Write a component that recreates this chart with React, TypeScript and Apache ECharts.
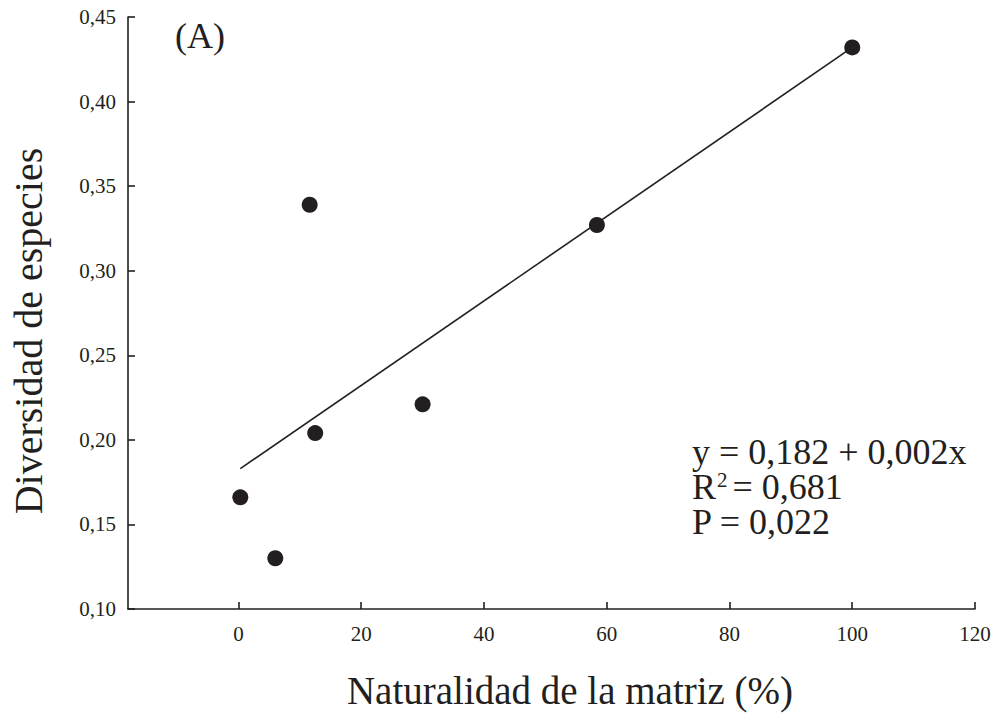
import React, { useEffect, useRef } from "react";
import * as echarts from "echarts";

const pointsX = [0.3, 6.0, 11.6, 12.5, 30.0, 58.4, 100];
const pointsY = [0.166, 0.130, 0.339, 0.204, 0.221, 0.327, 0.432];
const fitX = [0.3, 100];
const fitY = [0.183, 0.432];
const xTicks = [0, 20, 40, 60, 80, 100, 120];
const xTitle = "Naturalidad de la matriz (%)";
const yTitle = "Diversidad de especies";
const panelLabel = "(A)";
const eqLines = ["y = 0,182 + 0,002x", "= 0,681", "P = 0,022"];

const INK = "#231f20";
const FONT = "'Liberation Serif', 'Times New Roman', serif";

export default function App() {
  const ref = useRef<HTMLDivElement>(null);
  useEffect(() => {
    if (!ref.current) return;
    const chart = echarts.init(ref.current, null, { renderer: "svg" });
    chart.setOption({
      animation: false,
      backgroundColor: "#ffffff",
      grid: { left: 128, right: 24, top: 17, bottom: 105, containLabel: false },
      xAxis: {
        type: "value",
        min: -18,
        max: 120,
        splitLine: { show: false },
        axisLine: { show: true, onZero: false, lineStyle: { color: INK, width: 1.6 } },
        axisTick: {
          show: true,
          inside: true,
          length: 7,
          customValues: xTicks,
          lineStyle: { color: INK, width: 1.6 },
        },
        axisLabel: {
          customValues: xTicks,
          color: INK,
          fontFamily: FONT,
          fontSize: 21,
          margin: 14,
          formatter: (v: number) => String(v),
        },
      },
      yAxis: {
        type: "value",
        min: 0.1,
        max: 0.45,
        interval: 0.05,
        splitLine: { show: false },
        axisLine: { show: true, onZero: false, lineStyle: { color: INK, width: 1.6 } },
        axisTick: { show: true, inside: true, length: 7, lineStyle: { color: INK, width: 1.6 } },
        axisLabel: {
          color: INK,
          fontFamily: FONT,
          fontSize: 21,
          margin: 12,
          formatter: (v: number) => v.toFixed(2).replace(".", ","),
        },
      },
      series: [
        {
          type: "line",
          data: fitX.map((x, i) => [x, fitY[i]]),
          showSymbol: false,
          symbol: "none",
          lineStyle: { color: INK, width: 1.6 },
          silent: true,
          z: 1,
        },
        {
          type: "scatter",
          data: pointsX.map((x, i) => [x, pointsY[i]]),
          symbol: "circle",
          symbolSize: 16,
          itemStyle: { color: INK, opacity: 1 },
          z: 2,
        },
      ],
      graphic: [
        {
          type: "text",
          left: 175,
          top: 18,
          style: { text: panelLabel, fontFamily: FONT, fontSize: 36, fill: INK },
        },
        {
          type: "text",
          x: 28,
          y: 331,
          rotation: Math.PI / 2,
          style: {
            text: yTitle,
            fontFamily: FONT,
            fontSize: 40,
            fill: INK,
            align: "center",
            verticalAlign: "middle",
          },
        },
        {
          type: "text",
          x: 570,
          y: 690,
          style: {
            text: xTitle,
            fontFamily: FONT,
            fontSize: 39,
            fill: INK,
            align: "center",
            verticalAlign: "middle",
          },
        },
        {
          type: "text",
          x: 692,
          y: 434.5,
          style: {
            text:
              "{n|" + eqLines[0] + "}\n{n|R}{sup|2}{n|" + eqLines[1] + "}\n{n|" + eqLines[2] + "}",
            fontFamily: FONT,
            fill: INK,
            align: "left",
            verticalAlign: "top",
            rich: {
              n: { fontFamily: FONT, fontSize: 36, lineHeight: 35, fill: INK },
              sup: {
                fontFamily: FONT,
                fontSize: 21,
                lineHeight: 18,
                verticalAlign: "top",
                padding: [0, 5, 0, 1],
                fill: INK,
              },
            },
          },
        },
      ],
    });
    return () => chart.dispose();
  }, []);
  return (
    <div
      ref={ref}
      style={{ position: "fixed", left: 0, top: 0, width: 999, height: 714, background: "#fff" }}
    />
  );
}
